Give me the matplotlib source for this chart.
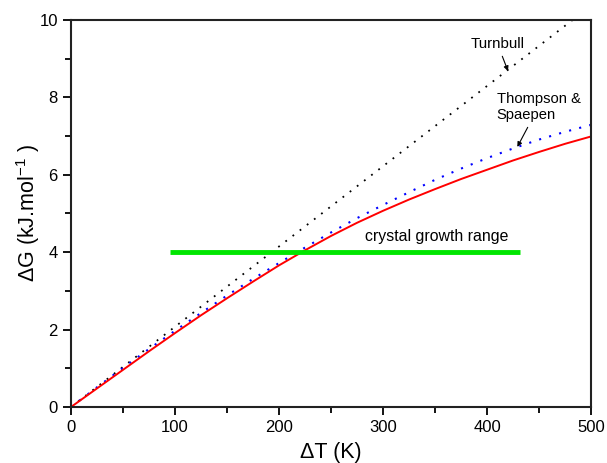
import matplotlib
matplotlib.use("Agg")
import matplotlib.pyplot as plt
from matplotlib.ticker import MultipleLocator

plt.rcParams["font.family"] = ["Liberation Sans", "DejaVu Sans"]
plt.rcParams["mathtext.fontset"] = "custom"
plt.rcParams["mathtext.rm"] = "Liberation Sans"
plt.rcParams["mathtext.it"] = "Liberation Sans"

# undercooling (K)
dT = [0, 25, 50, 75, 100, 125, 150, 175, 200, 225, 250, 275, 300,
      325, 350, 375, 400, 425, 450, 475, 500]
# measured / calculated curve (red)
dG_red = [0, 0.48, 0.96, 1.44, 1.91, 2.37, 2.81, 3.24, 3.66, 4.05, 4.42,
          4.76, 5.07, 5.36, 5.63, 5.89, 6.13, 6.37, 6.59, 6.80, 6.99]
# Thompson & Spaepen approximation (blue dotted)
dG_ts = [0, 0.51, 1.01, 1.50, 1.97, 2.43, 2.88, 3.31, 3.72, 4.12, 4.51,
         4.88, 5.22, 5.55, 5.87, 6.16, 6.43, 6.68, 6.91, 7.11, 7.29]
# Turnbull approximation (black dotted, straight line)
dT_turn = [0, 500]
dG_turn = [0, 10.37]
# crystal growth range
growth_x = [95, 432]
growth_y = [4, 4]

fig = plt.figure(figsize=(6.07, 4.63), dpi=100)
ax = fig.add_axes([0.117, 0.121, 0.857, 0.836])

ax.plot(dT_turn, dG_turn, color="black", linestyle=(0, (1, 4)), linewidth=1.3)
ax.plot(dT, dG_ts, color="blue", linestyle=(0, (1, 4)), linewidth=1.5)
ax.plot(dT, dG_red, color="red", linewidth=1.4)
ax.plot(growth_x, growth_y, color="#00e600", linewidth=3.5, solid_capstyle="butt")

ax.text(283, 4.3, "crystal growth range", fontsize=11.4)
ax.annotate("Turnbull", xy=(420, 8.68), xytext=(384, 9.38), fontsize=10.8,
            va="center", arrowprops=dict(arrowstyle="-|>", color="black",
                                         lw=0.8, mutation_scale=7, shrinkA=2, shrinkB=0))
ax.annotate("Thompson &\nSpaepen", xy=(429, 6.72), xytext=(409, 7.75), fontsize=10.6,
            va="center", ha="left", linespacing=1.2,
            arrowprops=dict(arrowstyle="-|>", color="black",
                            lw=0.8, mutation_scale=7, shrinkA=2, shrinkB=0))

ax.set_xlim(0, 500)
ax.set_ylim(0, 10)
ax.xaxis.set_major_locator(MultipleLocator(100))
ax.xaxis.set_minor_locator(MultipleLocator(50))
ax.yaxis.set_major_locator(MultipleLocator(2))
ax.yaxis.set_minor_locator(MultipleLocator(1))
ax.tick_params(which="both", direction="out", labelsize=12, width=1.3)
ax.tick_params(which="major", length=6)
ax.tick_params(which="minor", length=4)
for s in ax.spines.values():
    s.set_linewidth(1.5)
    s.set_color("#222222")

ax.set_xlabel("ΔT (K)", fontsize=15.5, labelpad=5)
ax.set_ylabel("ΔG (kJ.mol$^{-1}$ )", fontsize=15.5, labelpad=-2)

fig.savefig("out.png", dpi=100)
